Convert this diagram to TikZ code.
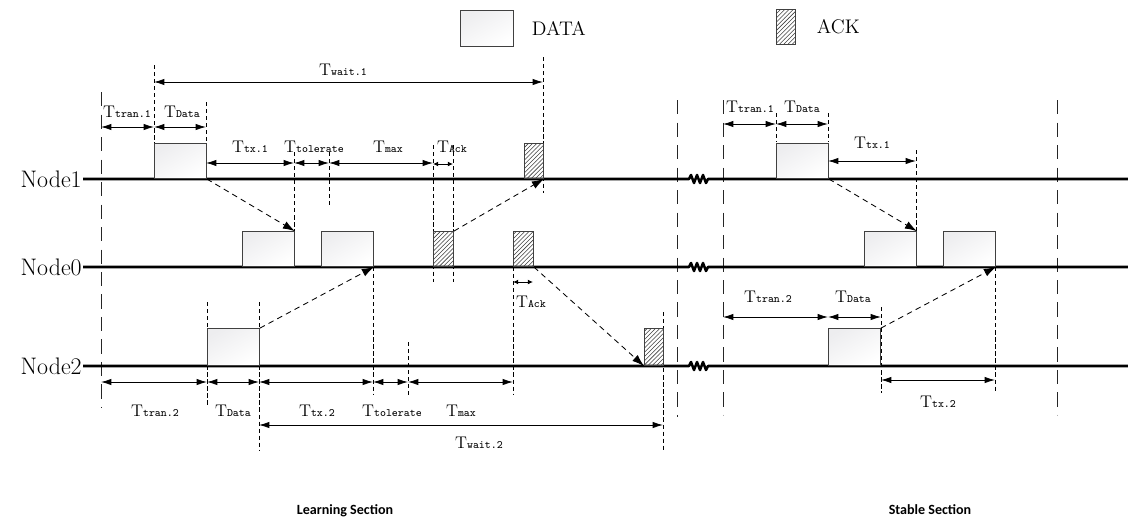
\documentclass[tikz,border=0pt]{standalone}
\usepackage{fontspec}
\newfontfamily\secfont{Carlito}
\usepackage{tikz}
\usetikzlibrary{arrows.meta,patterns}
\newcommand{\tlab}[1]{T{\fontsize{8}{9}\selectfont\ttfamily #1}}
\begin{document}
\begin{tikzpicture}[
      x=0.025cm, y=-0.025cm,
      axisln/.style={line width=1.8pt, line join=round},
      sect/.style={line width=0.6pt, black!85, dash pattern=on 10pt off 6pt},
      guide/.style={line width=0.5pt, dash pattern=on 3pt off 2pt},
      dim/.style={{Latex[length=2.6mm,width=1.6mm]}-{Latex[length=2.6mm,width=1.6mm]}, line width=0.6pt},
      dimsm/.style={{Latex[length=1.3mm,width=1.2mm]}-{Latex[length=1.3mm,width=1.2mm]}, line width=0.6pt},
      msg/.style={-{Latex[length=3mm,width=2mm]}, line width=0.6pt, dash pattern=on 4pt off 3pt},
      databox/.style={draw=black!75, line width=0.6pt, top color=blue!6!gray!13, bottom color=white,
                 shading angle=30, minimum width=1.3cm, minimum height=0.875cm,
                 inner sep=0pt, anchor=south west},
      ackbox/.style={draw=black!75, line width=0.6pt, pattern=north east lines, pattern color=black!75,
                 minimum width=0.5cm, minimum height=0.875cm, inner sep=0pt, anchor=south west},
      tl/.style={font=\fontsize{12}{14}\selectfont, inner sep=1pt},
      nodelbl/.style={font=\fontsize{17}{20}\selectfont, anchor=east, inner sep=0pt},
      sectlbl/.style={font=\secfont\bfseries\fontsize{10}{12}\selectfont}
    ]
    \useasboundingbox (0,0) rectangle (1128,520);

    % legende
    \node[databox, anchor=north west, minimum width=1.325cm, minimum height=0.9cm] (legd) at (460,10) {};
    \node[font=\fontsize{14}{16}\selectfont, anchor=west] (legdt) at (527,28) {DATA};
    \node[ackbox, anchor=north west, minimum width=0.475cm] (lega) at (776,9) {};
    \node[font=\fontsize{14}{16}\selectfont, anchor=west] (legat) at (812,27) {ACK};

    % abschnittsgrenzen
    \draw[sect] (101,92) -- (101,408);
    \draw[sect] (677,100) -- (677,417);
    \draw[sect] (723,100) -- (723,415);
    \draw[sect] (1057,100) -- (1057,415);

    % hilfslinien
    \draw[guide] (154,65) -- (154,145);
    \draw[guide] (206,102) -- (206,145);
    \draw[guide] (543,57) -- (543,193);
    \draw[guide] (294,152) -- (294,233);
    \draw[guide] (329,152) -- (329,206);
    \draw[guide] (433,145) -- (433,282);
    \draw[guide] (453,145) -- (453,282);
    \draw[guide] (513,267) -- (513,395);
    \draw[guide] (207,302) -- (207,407);
    \draw[guide] (259,302) -- (259,450);
    \draw[guide] (373,267) -- (373,395);
    \draw[guide] (408,342) -- (408,398);
    \draw[guide] (663,312) -- (663,450);
    \draw[guide] (776,113) -- (776,142);
    \draw[guide] (828,113) -- (828,142);
    \draw[guide] (916,150) -- (916,231);
    \draw[guide] (881,307) -- (881,393);
    \draw[guide] (995,267) -- (995,393);

    % zeitachsen
    \node[nodelbl] (n1) at (82,179) {Node1};
    \node[nodelbl] (n0) at (82,267) {Node0};
    \node[nodelbl] (n2) at (82,366) {Node2};
    \draw[axisln] (n1.east) ++(1,0) -- (689,179) -- (691,175) -- (694,183) -- (697,175) -- (700,183)
                  -- (703,175) -- (706,183) -- (708,179) -- (1128,179);
    \draw[axisln] (n0.east) ++(1,0) -- (689,267) -- (691,263) -- (694,271) -- (697,263) -- (700,271)
                  -- (703,263) -- (706,271) -- (708,267) -- (1128,267);
    \draw[axisln] (n2.east) ++(1,0) -- (689,366) -- (691,362) -- (694,370) -- (697,362) -- (700,370)
                  -- (703,362) -- (706,370) -- (708,366) -- (1128,366);

    % pakete node1
    \node[databox] (d11) at (154,179) {};
    \node[ackbox, minimum width=0.475cm] (a11) at (524,179) {};
    \node[databox] (d12) at (776,179) {};

    % pakete node0
    \node[databox] (d01) at (242,267) {};
    \node[databox] (d02) at (321,267) {};
    \node[ackbox] (a01) at (433,267) {};
    \node[ackbox] (a02) at (513,267) {};
    \node[databox] (d03) at (864,267) {};
    \node[databox] (d04) at (943,267) {};

    % pakete node2
    \node[databox, minimum height=0.925cm] (d21) at (207,366) {};
    \node[ackbox, minimum width=0.475cm, minimum height=0.925cm] (a21) at (644,366) {};
    \node[databox, minimum height=0.925cm] (d22) at (828,366) {};

    % uebertragungen
    \draw[msg] (d11.south east) -- (d01.north east);
    \draw[msg] (a01.north east) -- (a11.south east);
    \draw[msg] (d21.north east) -- (d02.south east);
    \draw[msg] (a02.south east) -- (a21.south west);
    \draw[msg] (d12.south east) -- (d03.north east);
    \draw[msg] (d22.north east) -- (d04.south east);

    % zeiten lernphase
    \draw[dim] (154,82) -- (543,82);
    \node[tl] at (343,70) {\tlab{wait.1}};
    \draw[dim] (101,127) -- (154,127);
    \node[tl] at (127,112) {\tlab{tran.1}};
    \draw[dim] (154,127) -- (206,127);
    \node[tl] at (182,112) {\tlab{Data}};
    \draw[dim] (206,163) -- (294,163);
    \node[tl] at (250,147) {\tlab{tx.1}};
    \draw[dim] (294,163) -- (329,163);
    \node[tl] at (314,147) {\tlab{tolerate}};
    \draw[dim] (329,163) -- (433,163);
    \node[tl] at (388,147) {\tlab{max}};
    \draw[dimsm] (433,164) -- (453,164);
    \node[tl] at (452,147) {\tlab{Ack}};
    \draw[dimsm] (513,282) -- (533,282);
    \node[tl] at (531,302) {\tlab{Ack}};

    \draw[dim] (101,382) -- (207,382);
    \node[tl] at (155,411) {\tlab{tran.2}};
    \draw[dim] (207,382) -- (259,382);
    \node[tl] at (233,411) {\tlab{Data}};
    \draw[dim] (259,382) -- (373,382);
    \node[tl] at (317,411) {\tlab{tx.2}};
    \draw[dim] (373,382) -- (408,382);
    \node[tl] at (392,411) {\tlab{tolerate}};
    \draw[dim] (408,382) -- (513,382);
    \node[tl] at (461,411) {\tlab{max}};
    \draw[dim] (259,425) -- (663,425);
    \node[tl] at (479,443) {\tlab{wait.2}};

    % zeiten stabile phase
    \draw[dim] (723,124) -- (776,124);
    \node[tl] at (750,107) {\tlab{tran.1}};
    \draw[dim] (776,124) -- (828,124);
    \node[tl] at (802,107) {\tlab{Data}};
    \draw[dim] (828,161) -- (916,161);
    \node[tl] at (872,143) {\tlab{tx.1}};
    \draw[dim] (723,317) -- (828,317);
    \node[tl] at (768,297) {\tlab{tran.2}};
    \draw[dim] (828,317) -- (881,317);
    \node[tl] at (853,297) {\tlab{Data}};
    \draw[dim] (881,380) -- (995,380);
    \node[tl] at (938,402) {\tlab{tx.2}};

    % abschnitte
    \node[sectlbl] (ls) at (345,511) {Learning Section};
    \node[sectlbl] (ss) at (930,510) {Stable Section};
  \end{tikzpicture}
\end{document}
